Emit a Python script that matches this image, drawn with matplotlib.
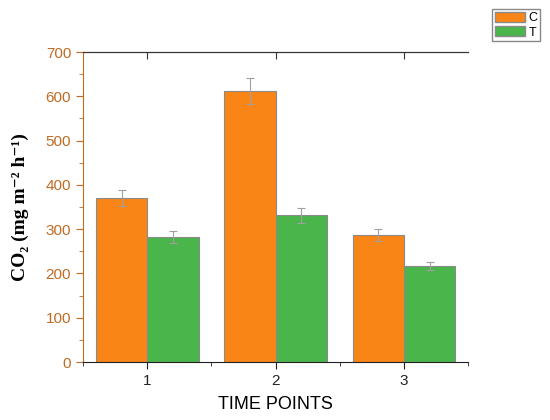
import matplotlib.pyplot as plt
from matplotlib.patches import Patch
from matplotlib.ticker import MultipleLocator

plt.rcParams['font.family'] = ['Liberation Sans', 'DejaVu Sans']

# data
time_points = [1, 2, 3]
c_mean = [370, 612, 287]
c_err = [18, 30, 13]
t_mean = [282, 332, 217]
t_err = [14, 17, 10]

orange = '#FA8517'
green = '#4AB54A'
axis_col = '#C06A22'

fig = plt.figure(figsize=(5.5, 4.2), dpi=100)
ax = fig.add_axes([0.151, 0.138, 0.70, 0.738])

w = 0.4
xc = [x - w / 2 for x in time_points]
xt = [x + w / 2 for x in time_points]
ax.bar(xc, c_mean, width=w, color=orange, edgecolor='#8a8a8a', linewidth=0.8, zorder=2)
ax.bar(xt, t_mean, width=w, color=green, edgecolor='#8a8a8a', linewidth=0.8, zorder=2)
ax.errorbar(xc, c_mean, yerr=c_err, fmt='none', ecolor='#a0a0a0', elinewidth=0.8, capsize=3, capthick=0.8, zorder=3)
ax.errorbar(xt, t_mean, yerr=t_err, fmt='none', ecolor='#a0a0a0', elinewidth=0.8, capsize=3, capthick=0.8, zorder=3)

ax.set_xlim(0.5, 3.5)
ax.set_ylim(0, 700)
ax.set_xticks(time_points)
ax.xaxis.set_minor_locator(MultipleLocator(0.5))
ax.yaxis.set_major_locator(MultipleLocator(100))
ax.yaxis.set_minor_locator(MultipleLocator(50))

ax.spines['right'].set_visible(False)
ax.spines['left'].set_color(axis_col)
ax.spines['top'].set_color('#333333')
ax.spines['bottom'].set_color('#222222')
ax.tick_params(axis='y', which='both', colors=axis_col, labelsize=11, direction='out')
ax.tick_params(axis='y', which='major', length=5)
ax.tick_params(axis='y', which='minor', length=3)
ax.tick_params(axis='x', which='both', direction='out', labelsize=11, colors='#222222')
ax.tick_params(axis='x', which='major', length=5)
ax.tick_params(axis='x', which='minor', length=3)

# top axis: inward ticks, no labels
top = ax.twiny()
top.set_xlim(ax.get_xlim())
top.set_xticks(time_points)
top.tick_params(axis='x', which='major', direction='in', length=5, labeltop=False, colors='#333333')
for side in ['left', 'right', 'bottom']:
    top.spines[side].set_visible(False)
top.spines['top'].set_color('#333333')

ax.set_xlabel('TIME POINTS', fontsize=13, labelpad=6)
ax.set_ylabel('CO\u2082 (mg m\u207b\u00b2 h\u207b\u00b9)', fontsize=14, fontweight='bold',
              family=['Liberation Serif', 'DejaVu Serif'], labelpad=12)

handles = [Patch(facecolor=orange, edgecolor='#8a8a8a'), Patch(facecolor=green, edgecolor='#8a8a8a')]
fig.legend(handles, ['C', 'T'], loc='upper right', bbox_to_anchor=(0.993, 0.993),
           fontsize=9, handlelength=2.4, handleheight=0.9, handletextpad=0.3,
           labelspacing=0.15, borderpad=0.2, fancybox=False, edgecolor='#888888', framealpha=1)

fig.savefig('out.png', dpi=100)
